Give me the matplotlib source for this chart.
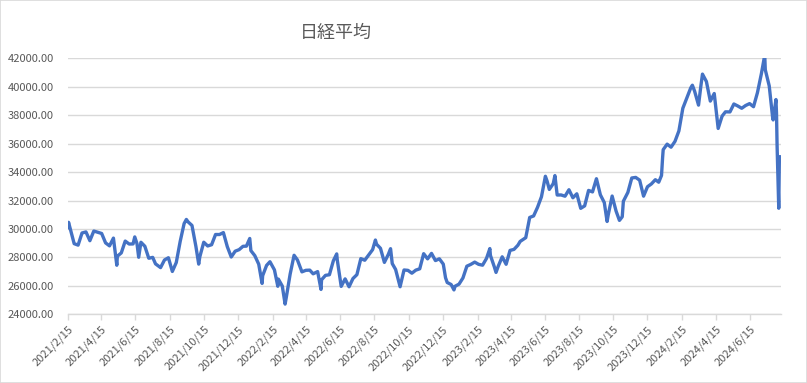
import matplotlib
matplotlib.use("Agg")
import matplotlib.pyplot as plt
from matplotlib.patches import Rectangle
from matplotlib.ticker import FuncFormatter
import pandas as pd

plt.rcParams['font.family'] = ['Noto Sans CJK JP', 'DejaVu Sans']

# Nikkei 225 closes (weekly + turning points)
dates = [
    # 2021
    "2021-02-15", "2021-02-16", "2021-02-19", "2021-02-26", "2021-03-05", "2021-03-12",
    "2021-03-19", "2021-03-26", "2021-04-02", "2021-04-09", "2021-04-16", "2021-04-23",
    "2021-04-30", "2021-05-07", "2021-05-13", "2021-05-14", "2021-05-21", "2021-05-28",
    "2021-06-04", "2021-06-11", "2021-06-14", "2021-06-18", "2021-06-21", "2021-06-25",
    "2021-07-02", "2021-07-09", "2021-07-16", "2021-07-21", "2021-07-30", "2021-08-06",
    "2021-08-13", "2021-08-20", "2021-08-27", "2021-09-03", "2021-09-10", "2021-09-14",
    "2021-09-17", "2021-09-24", "2021-10-01", "2021-10-06", "2021-10-08", "2021-10-15",
    "2021-10-22", "2021-10-29", "2021-11-05", "2021-11-12", "2021-11-19", "2021-11-26",
    "2021-12-03", "2021-12-10", "2021-12-17", "2021-12-24", "2021-12-30",
    # 2022
    "2022-01-05", "2022-01-07", "2022-01-14", "2022-01-21", "2022-01-27", "2022-01-28",
    "2022-02-04", "2022-02-10", "2022-02-18", "2022-02-24", "2022-02-25", "2022-03-04",
    "2022-03-09", "2022-03-11", "2022-03-18", "2022-03-25", "2022-03-31", "2022-04-08",
    "2022-04-15", "2022-04-22", "2022-04-28", "2022-05-06", "2022-05-12", "2022-05-13",
    "2022-05-20", "2022-05-27", "2022-06-03", "2022-06-09", "2022-06-10", "2022-06-17",
    "2022-06-24", "2022-07-01", "2022-07-08", "2022-07-15", "2022-07-22", "2022-07-29",
    "2022-08-05", "2022-08-12", "2022-08-17", "2022-08-19", "2022-08-26", "2022-09-02",
    "2022-09-09", "2022-09-13", "2022-09-16", "2022-09-22", "2022-09-30", "2022-10-07",
    "2022-10-14", "2022-10-21", "2022-10-28", "2022-11-04", "2022-11-11", "2022-11-18",
    "2022-11-25", "2022-12-02", "2022-12-09", "2022-12-16", "2022-12-20", "2022-12-23",
    "2022-12-30",
    # 2023
    "2023-01-04", "2023-01-06", "2023-01-13", "2023-01-20", "2023-01-27", "2023-02-03",
    "2023-02-10", "2023-02-17", "2023-02-24", "2023-03-03", "2023-03-09", "2023-03-10",
    "2023-03-17", "2023-03-20", "2023-03-24", "2023-03-31", "2023-04-07", "2023-04-14",
    "2023-04-21", "2023-04-28", "2023-05-02", "2023-05-12", "2023-05-19", "2023-05-26",
    "2023-06-02", "2023-06-09", "2023-06-16", "2023-06-19", "2023-06-23", "2023-06-30",
    "2023-07-03", "2023-07-07", "2023-07-14", "2023-07-21", "2023-07-28", "2023-08-04",
    "2023-08-11", "2023-08-18", "2023-08-25", "2023-09-01", "2023-09-08", "2023-09-15",
    "2023-09-22", "2023-09-29", "2023-10-04", "2023-10-06", "2023-10-13", "2023-10-20",
    "2023-10-26", "2023-10-31", "2023-11-02", "2023-11-10", "2023-11-17", "2023-11-24",
    "2023-12-01", "2023-12-08", "2023-12-15", "2023-12-22", "2023-12-29",
    # 2024
    "2024-01-04", "2024-01-05", "2024-01-09", "2024-01-10", "2024-01-11", "2024-01-12",
    "2024-01-19", "2024-01-26", "2024-02-02", "2024-02-09", "2024-02-16", "2024-02-22",
    "2024-03-01", "2024-03-04", "2024-03-08", "2024-03-15", "2024-03-19", "2024-03-22",
    "2024-03-29", "2024-04-05", "2024-04-12", "2024-04-19", "2024-04-26", "2024-05-02",
    "2024-05-10", "2024-05-17", "2024-05-24", "2024-05-31", "2024-06-07", "2024-06-14",
    "2024-06-21", "2024-06-28", "2024-07-05", "2024-07-11", "2024-07-12", "2024-07-19",
    "2024-07-25", "2024-07-26", "2024-07-31", "2024-08-01", "2024-08-02", "2024-08-05",
    "2024-08-06", "2024-08-07", "2024-08-08", "2024-08-09",
]

closes = [
    # 2021
    30084, 30467, 30017, 28966, 28864, 29717,
    29792, 29176, 29854, 29768, 29683, 29020,
    28812, 29357, 27448, 28084, 28317, 29149,
    28941, 28948, 29441, 28964, 28010, 29066,
    28783, 27940, 28003, 27548, 27283, 27820,
    27977, 27013, 27641, 29128, 30381, 30670,
    30500, 30248, 28771, 27528, 28048, 29068,
    28804, 28892, 29611, 29609, 29745, 28751,
    28029, 28437, 28545, 28782, 28791,
    # 2022
    29332, 28478, 28124, 27522, 26170, 26717,
    27439, 27696, 27122, 25970, 26476, 25985,
    24717, 25162, 26827, 28149, 27821, 26985,
    27093, 27105, 26847, 27003, 25748, 26427,
    26739, 26781, 27761, 28246, 27824, 25963,
    26491, 25935, 26517, 26788, 27914, 27801,
    28175, 28546, 29222, 28930, 28641, 27650,
    28214, 28614, 27567, 27153, 25937, 27116,
    27090, 26890, 27105, 27199, 28263, 27899,
    28283, 27777, 27901, 27527, 26568, 26235,
    26094,
    # 2023
    25716, 25973, 26119, 26553, 27382, 27509,
    27670, 27513, 27453, 27927, 28623, 28143,
    27333, 26945, 27385, 28041, 27518, 28493,
    28564, 28856, 29123, 29388, 30808, 30916,
    31524, 32265, 33706, 33370, 32781, 33189,
    33753, 32388, 32391, 32304, 32759, 32193,
    32473, 31450, 31624, 32710, 32606, 33533,
    32402, 31857, 30526, 30994, 32315, 31259,
    30602, 30858, 31950, 32568, 33585, 33625,
    33431, 32307, 32970, 33169, 33464,
    # 2024
    33288, 33377, 33763, 34441, 35049, 35577,
    35963, 35751, 36158, 36897, 38487, 39098,
    39910, 40109, 39688, 38707, 40003, 40888,
    40369, 38992, 39523, 37068, 37934, 38236,
    38229, 38787, 38646, 38487, 38683, 38814,
    38596, 39583, 40912, 42224, 41190, 40063,
    37869, 37667, 39101, 38126, 35909, 31458,
    34675, 35089, 34831, 35025,
]

tick_labels = [
    "2021/2/15", "2021/4/15", "2021/6/15", "2021/8/15", "2021/10/15", "2021/12/15",
    "2022/2/15", "2022/4/15", "2022/6/15", "2022/8/15", "2022/10/15", "2022/12/15",
    "2023/2/15", "2023/4/15", "2023/6/15", "2023/8/15", "2023/10/15", "2023/12/15",
    "2024/2/15", "2024/4/15", "2024/6/15",
]

y_ticks = [24000, 26000, 28000, 30000, 32000, 34000, 36000, 38000, 40000, 42000]

x = pd.to_datetime(dates)
tick_pos = pd.to_datetime(tick_labels, format="%Y/%m/%d")

fig = plt.figure(figsize=(8.07, 3.83), dpi=100)
# light frame round the whole chart, like the Excel chart area
fig.patches.append(Rectangle((0, 0), 1, 1, transform=fig.transFigure,
                             fill=False, edgecolor="#D9D9D9", linewidth=1.2))

ax = fig.add_axes([68 / 807, 1 - 314.3 / 383, (781 - 68) / 807, 256 / 383])
ax.plot(x, closes, color="#4472C4", linewidth=2.4, solid_joinstyle="round",
        solid_capstyle="round")

ax.set_xlim(x[0], x[-1])
ax.set_ylim(24000, 42000)
ax.set_yticks(y_ticks)
ax.yaxis.set_major_formatter(FuncFormatter(lambda v, p: "%.2f" % v))
ax.grid(axis="y", color="#D9D9D9", linewidth=1)
ax.set_axisbelow(True)

for s in ["top", "right", "left"]:
    ax.spines[s].set_visible(False)
ax.spines["bottom"].set_color("#D9D9D9")
ax.spines["bottom"].set_linewidth(1)

ax.set_xticks(tick_pos)
ax.set_xticklabels(tick_labels, rotation=45, ha="right", va="top", rotation_mode="anchor")
ax.tick_params(axis="x", colors="#595959", labelsize=8, length=4, width=1, pad=3)
ax.tick_params(axis="x", which="major", color="#D9D9D9")
ax.tick_params(axis="y", colors="#595959", labelsize=8, length=0, pad=10)

fig.text(336 / 807, 1 - 33 / 383, "日経平均", ha="center", va="center",
         fontsize=13, color="#595959")

fig.savefig("out.png", dpi=100)
